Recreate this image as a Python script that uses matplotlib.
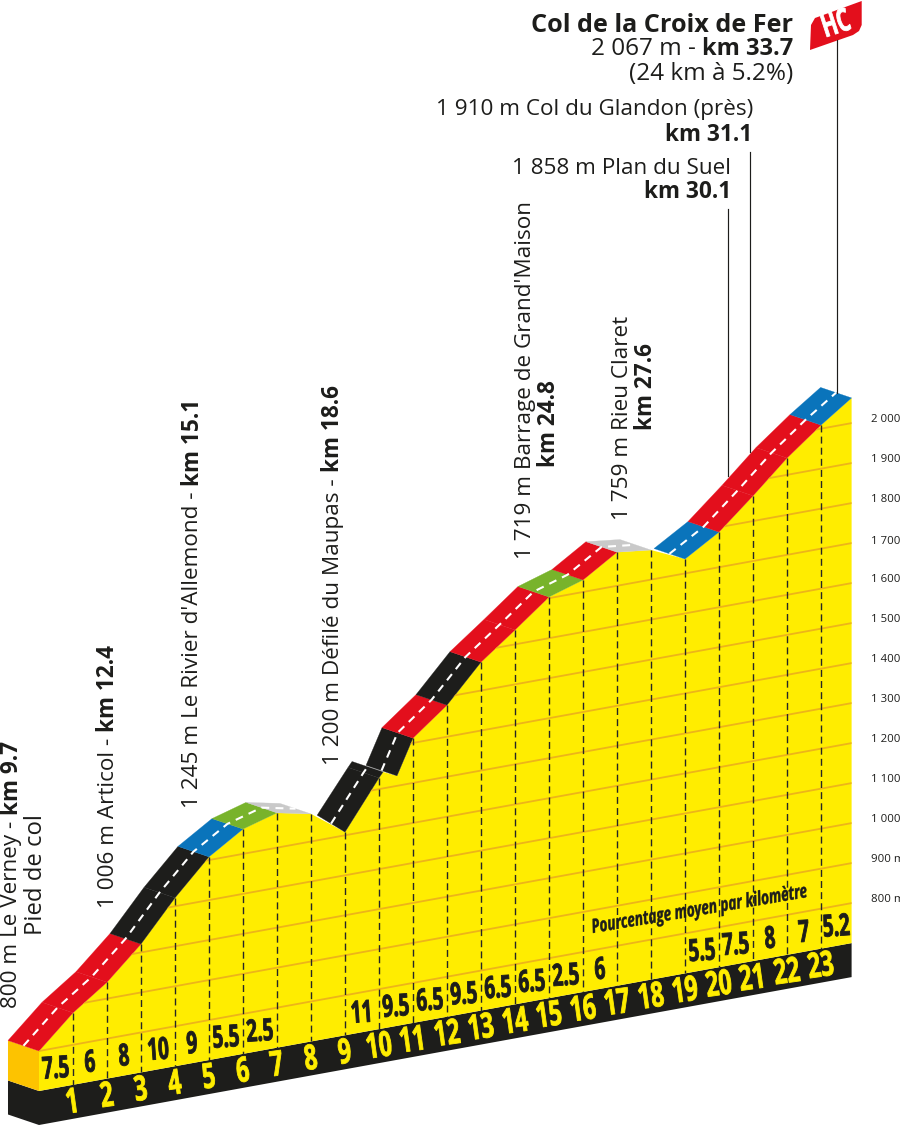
import matplotlib
matplotlib.use("Agg")
import matplotlib.pyplot as plt
from matplotlib.patches import Polygon
from matplotlib.patheffects import AbstractPathEffect
from matplotlib.transforms import Affine2D

plt.rcParams['font.family'] = ['Open Sans', 'DejaVu Sans']

# Climb profile: distance from the foot (km) and altitude (m)
profile_km = [0, 1, 2, 3, 4, 5, 6, 7, 8, 9, 10, 10.12, 10.53, 11, 12, 13, 14, 15, 16, 17, 18, 19, 20, 21, 22, 23, 23.9]
profile_alt = [800, 880, 941, 1021, 1121, 1208, 1262, 1287, 1269, 1208, 1328, 1341, 1325, 1412, 1479, 1571, 1636,
               1703, 1730, 1784, 1774, 1736, 1788, 1863, 1942, 2009, 2063]

RED, BLACK, BLUE, GREEN, GREY = '#e30f1c', '#1d1d1b', '#0a74bb', '#78b32b', '#c9c9c9'
# Road colour per stretch, None where the road is hidden behind the slope
road_colors = [RED, RED, RED, BLACK, BLACK, BLUE, GREEN, GREY, None, BLACK, BLACK, None, BLACK, RED, BLACK, RED, RED,
               GREEN, RED, GREY, None, BLUE, RED, RED, RED, BLUE]

grid_alts = list(range(800, 2100, 100))
grid_labels = ['800 m', '900 m', '1 000 m', '1 100 m', '1 200 m', '1 300 m', '1 400 m', '1 500 m', '1 600 m',
               '1 700 m', '1 800 m', '1 900 m', '2 000 m']
grid_label_y = [900, 860, 820, 780, 740, 700, 660, 620, 580, 541, 500, 460, 420]

km_numbers = list(range(1, 24))
pct_km = [0.5, 1.5, 2.5, 3.5, 4.5, 5.5, 6.5, 9.5, 10.5, 11.5, 12.5, 13.5, 14.5, 15.5, 16.5, 19.5, 20.5, 21.5, 22.5, 23.45]
pct_text = ['7.5', '6', '8', '10', '9', '5.5', '2.5', '11', '9.5', '6.5', '9.5', '6.5', '6.5', '2.5', '6', '5.5', '7.5',
            '8', '7', '5.2']

BASE_ALT, FOOT_ALT = 700, 615
DEPTH_KM, DEPTH_ALT = -0.912, 40.35
LEADER_X = [727.5, 749.5, 836.5]
LEADER_TOP = [209, 152, 40]
LEADER_BOTTOM = [476, 452, 393]


class Squeeze(AbstractPathEffect):
    """Narrows and thickens glyphs around their centre, for the condensed figures."""

    def __init__(self, factor, stroke=0.6):
        super().__init__()
        self.factor = factor
        self.stroke = stroke

    def draw_path(self, renderer, gc, tpath, affine, rgbFace=None):
        ext = tpath.get_extents()
        cx = (ext.x0 + ext.x1) / 2
        squeeze = Affine2D().translate(-cx, 0).scale(self.factor, 1).translate(cx, 0)
        gc0 = renderer.new_gc()
        gc0.copy_properties(gc)
        gc0.set_foreground(rgbFace)
        gc0.set_linewidth(self.stroke)
        renderer.draw_path(gc0, tpath, squeeze + affine, rgbFace)
        gc0.restore()


fig = plt.figure(figsize=(9, 11.26), dpi=100)
ax = fig.add_axes([0, 0, 1, 1])
ax.set_xlim(0, 900)
ax.set_ylim(1126, 0)
ax.axis('off')

# km / altitude to sheet position, sloped like the base of the profile
skew = Affine2D.from_values(34, -6.188, 0, -0.4, 39, 1371)
profile = skew + ax.transData
renderer = fig.canvas.get_renderer()


def mixed_line(x, y, parts, sizes, rotated=False):
    """Runs of (text, bold) one after another: upward if rotated, else right-aligned ending at x."""
    reg_size, bold_size = sizes
    if not rotated:
        parts = parts[::-1]
    for txt, bold in parts:
        weight = 'bold' if bold else 'normal'
        size = bold_size if bold else reg_size
        if rotated:
            t = ax.text(x, y, txt, rotation=90, ha='center', va='bottom', fontsize=size, weight=weight, color='#1d1d1b')
            y -= t.get_window_extent(renderer).height + 6
        else:
            t = ax.text(x, y, txt, ha='right', va='center', fontsize=size, weight=weight, color='#1d1d1b')
            x -= t.get_window_extent(renderer).width + 6


# Base band and starting block
ax.add_patch(Polygon([(0, BASE_ALT), (23.9, BASE_ALT), (23.9, FOOT_ALT), (0, FOOT_ALT)], transform=profile,
                     fc=BLACK, ec='none'))
ax.add_patch(Polygon([(DEPTH_KM, BASE_ALT + DEPTH_ALT), (0, BASE_ALT), (0, FOOT_ALT), (DEPTH_KM, FOOT_ALT + DEPTH_ALT)],
                     transform=profile, fc=BLACK, ec='none'))
ax.add_patch(Polygon([(DEPTH_KM, 800 + DEPTH_ALT), (0, 800), (0, BASE_ALT), (DEPTH_KM, BASE_ALT + DEPTH_ALT)],
                     transform=profile, fc='#fdc300', ec='none'))

# Yellow slope with altitude lines clipped to it
slope_pts = list(zip(profile_km, profile_alt)) + [(23.9, BASE_ALT), (0, BASE_ALT)]
slope = Polygon(slope_pts, transform=profile, fc='#ffed00', ec='none')
ax.add_patch(slope)
for alt in grid_alts:
    line, = ax.plot([0, 23.9], [alt, alt], transform=profile, color='#edb41a', lw=1.3)
    line.set_clip_path(slope)

# Kilometre marks
for k, alt in zip(profile_km, profile_alt):
    if k in km_numbers:
        ax.plot([k, k], [alt, BASE_ALT], transform=profile, color='#262626', lw=1.0, ls=(0, (5, 3)))

# Road surface, one stretch at a time
back_km = [k + DEPTH_KM for k in profile_km]
back_alt = [a + DEPTH_ALT for a in profile_alt]
# rear corner at km 9 sits on the descending slope
back_km[9], back_alt[9] = 8.18, 1263

for i, col in enumerate(road_colors):
    if col is None:
        continue
    quad = [(profile_km[i], profile_alt[i]), (profile_km[i + 1], profile_alt[i + 1]),
            (back_km[i + 1], back_alt[i + 1]), (back_km[i], back_alt[i])]
    ax.add_patch(Polygon(quad, transform=profile, fc=col, ec=col, lw=0.2))

# White centre line over each visible run of road
run_x, run_y = [], []
for i, col in enumerate(road_colors + [None]):
    if col is not None:
        if not run_x:
            run_x.append((profile_km[i] + back_km[i]) / 2)
            run_y.append((profile_alt[i] + back_alt[i]) / 2)
        run_x.append((profile_km[i + 1] + back_km[i + 1]) / 2)
        run_y.append((profile_alt[i + 1] + back_alt[i + 1]) / 2)
    elif run_x:
        ax.plot(run_x, run_y, transform=profile, color='white', lw=1.5, ls=(0, (3.8, 3)), dash_capstyle='butt')
        run_x, run_y = [], []

# Kilometre numbers and average gradients
for k in km_numbers:
    ax.text(k, 653, str(k), transform=profile, ha='center', va='center', color='#ffed00', fontsize=25, weight='bold',
            rotation=8, path_effects=[Squeeze(0.66)])
for k, txt in zip(pct_km, pct_text):
    ax.text(k, 745, txt, transform=profile, ha='center', va='center', color='#1d1d1b', fontsize=22, weight='bold',
            rotation=4, path_effects=[Squeeze(0.62)])
ax.text(700, 910, 'Pourcentage moyen par kilomètre', ha='center', va='center', color='#1d1d1b', fontsize=14,
        weight='bold', style='italic', rotation=9.5, path_effects=[Squeeze(0.7, stroke=0.3)])

# Altitude scale on the right, running off the sheet
for lab, y in zip(grid_labels, grid_label_y):
    ax.text(871, y, lab, ha='left', va='center', fontsize=8.2, color='#1d1d1b', clip_on=True)

# Leaders to the road
for x, top, bottom in zip(LEADER_X, LEADER_TOP, LEADER_BOTTOM):
    ax.plot([x, x], [top, bottom], color='#1d1d1b', lw=0.85)

# HC flag
ax.add_patch(Polygon([(810, 50), (811, 25), (815, 18), (861.7, 1), (861.7, 25), (859, 31), (853, 35)], fc='#e30f1c', ec='none'))
ax.text(836, 25, 'HC', ha='center', va='center', color='white', fontsize=23, weight='bold', rotation=18,
        path_effects=[Squeeze(0.64)])

# Summit and upper passes
ax.text(793, 25, 'Col de la Croix de Fer', ha='right', va='center', fontsize=18.2, weight='bold', color='#1d1d1b')
mixed_line(793, 49, [('2 067 m -', False), ('km 33.7', True)], (17.5, 17))
ax.text(793, 74, '(24 km à 5.2%)', ha='right', va='center', fontsize=17.5, color='#1d1d1b')
ax.text(753, 109, '1 910 m Col du Glandon (près)', ha='right', va='center', fontsize=16.2, color='#1d1d1b')
ax.text(752, 135, 'km 31.1', ha='right', va='center', fontsize=16.3, weight='bold', color='#1d1d1b')
ax.text(731, 168, '1 858 m Plan du Suel', ha='right', va='center', fontsize=16.2, color='#1d1d1b')
ax.text(731, 192, 'km 30.1', ha='right', va='center', fontsize=16.3, weight='bold', color='#1d1d1b')

# Vertical place names
ROT_SIZES = (16.2, 16.3)
mixed_line(12, 1008, [('800 m Le Verney -', False), ('km 9.7', True)], ROT_SIZES, rotated=True)
ax.text(36, 875, 'Pied de col', rotation=90, ha='center', va='center', fontsize=17.2, color='#1d1d1b')
mixed_line(108, 908, [('1 006 m Articol -', False), ('km 12.4', True)], ROT_SIZES, rotated=True)
mixed_line(193, 808, [("1 245 m Le Rivier d'Allemond -", False), ('km 15.1', True)], ROT_SIZES, rotated=True)
mixed_line(333, 765, [('1 200 m Défilé du Maupas -', False), ('km 18.6', True)], ROT_SIZES, rotated=True)
ax.text(526, 380, "1 719 m Barrage de Grand'Maison", rotation=90, ha='center', va='center', fontsize=16.2, color='#1d1d1b')
ax.text(549, 424, 'km 24.8', rotation=90, ha='center', va='center', fontsize=16.3, weight='bold', color='#1d1d1b')
ax.text(623, 418, '1 759 m Rieu Claret', rotation=90, ha='center', va='center', fontsize=16.2, color='#1d1d1b')
ax.text(646, 386, 'km 27.6', rotation=90, ha='center', va='center', fontsize=16.3, weight='bold', color='#1d1d1b')

fig.savefig('out.png', dpi=100)
